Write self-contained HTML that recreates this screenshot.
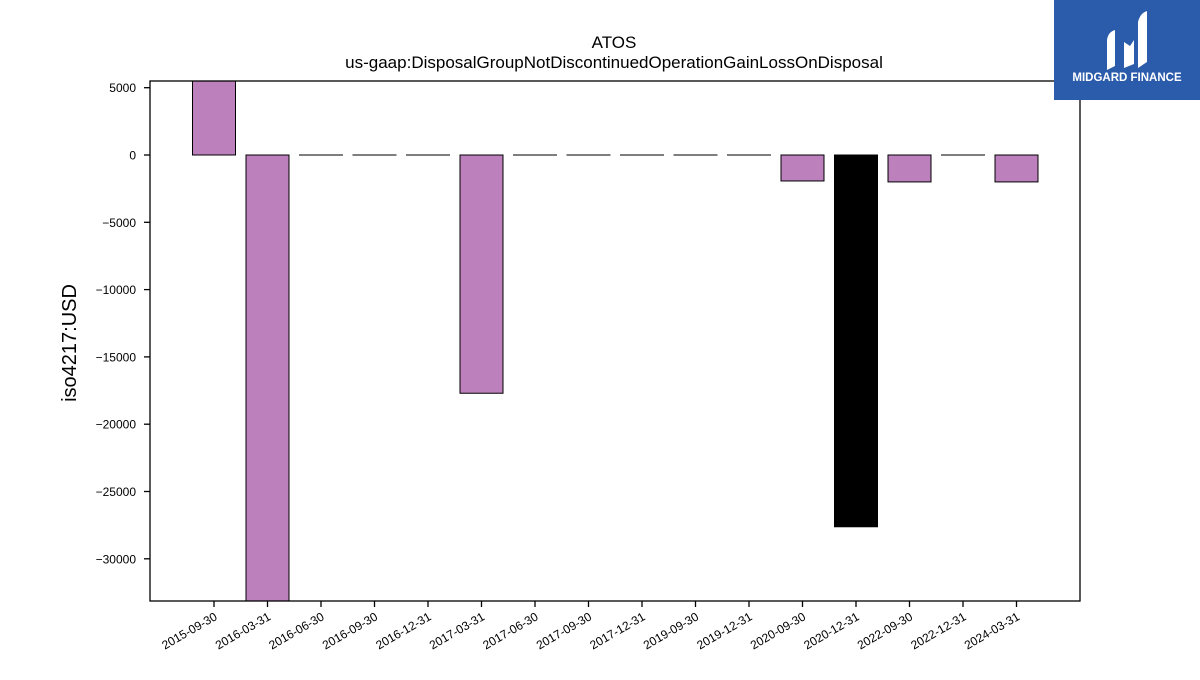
<!DOCTYPE html>
<html><head><meta charset="utf-8"><style>
body{margin:0;background:#fff;}
svg text{font-family:"Liberation Sans","DejaVu Sans",sans-serif;}
</style></head><body>
<svg id="chart" width="1200" height="675" xmlns="http://www.w3.org/2000/svg">
<rect width="1200" height="675" fill="#fff"/>
<text x="614" y="48" font-size="17" text-anchor="middle">ATOS</text>
<text x="614" y="68" font-size="17" text-anchor="middle">us-gaap:DisposalGroupNotDiscontinuedOperationGainLossOnDisposal</text>
<text transform="translate(76,343) rotate(-90)" font-size="20" text-anchor="middle">iso4217:USD</text>
<defs><clipPath id="pc"><rect x="150" y="81" width="930" height="520"/></clipPath></defs>
<g id="bars" clip-path="url(#pc)"></g>
<g id="yticks"></g><g id="xticks"></g>
<rect x="150" y="81" width="930" height="520" fill="none" stroke="#000" stroke-width="1.3"/>
<g>
<rect x="1054" y="0" width="146" height="100" fill="#2b5bab"/>
<path d="M1107 70 L1107 40 Q1108 32 1115 30 L1115 66 Z M1124 68 L1124 42 L1130 46 L1134 40 L1134 64 Z M1138 68 L1138 22 Q1140 13 1147 11 L1147 62 Z" fill="#fff"/>
<text x="1127" y="81" font-size="11.5" font-weight="bold" fill="#fff" text-anchor="middle">MIDGARD FINANCE</text>
</g>
</svg>
<script>
const categories=["2015-09-30","2016-03-31","2016-06-30","2016-09-30","2016-12-31","2017-03-31","2017-06-30","2017-09-30","2017-12-31","2019-09-30","2019-12-31","2020-09-30","2020-12-31","2022-09-30","2022-12-31","2024-03-31"];
const values=[5600,-34000,0,0,0,-17700,0,0,0,0,0,-1930,-27620,-2000,0,-2000];
const highlight=[false,false,false,false,false,false,false,false,false,false,false,false,true,false,false,false];
const yTicks=[5000,0,-5000,-10000,-15000,-20000,-25000,-30000];
const yTickLabels=["5000","0","\u22125000","\u221210000","\u221215000","\u221220000","\u221225000","\u221230000"];
const NS="http://www.w3.org/2000/svg";
function y(v){return 155-v*(67.3/5000);}
function x(i){return 214+i*53.5;}
function mk(t,a,p){const e=document.createElementNS(NS,t);for(const k in a)e.setAttribute(k,a[k]);p.appendChild(e);return e;}
const bars=document.getElementById('bars');
values.forEach((v,i)=>{
  const y0=Math.min(y(v),y(0)),h=Math.max(Math.abs(y(v)-y(0)),0.01);
  const r=mk('rect',{x:x(i)-21.5,y:y0,width:43,height:h,fill:highlight[i]?'#000':'#bc80bd',stroke:'#000','stroke-width':1},bars);
  
  
});
const yt=document.getElementById('yticks');
yTicks.forEach((v,i)=>{
  const l=mk('line',{x1:144,x2:150,y1:y(v),y2:y(v),stroke:'#000','stroke-width':1.3},yt);
  
  
  const t=mk('text',{x:136,y:y(v)+4.5,'font-size':12,'text-anchor':'end'},yt);
  
  
  t.textContent=yTickLabels[i];
});
const xt=document.getElementById('xticks');
categories.forEach((c,i)=>{
  const l=mk('line',{x1:x(i),x2:x(i),y1:601,y2:607,stroke:'#000','stroke-width':1.3},xt);
  
  
  const t=mk('text',{transform:`translate(${x(i)+4},${619}) rotate(-30)`,'font-size':12,'text-anchor':'end'},xt);
  
  
  t.textContent=c;
});
</script>
</body></html>
